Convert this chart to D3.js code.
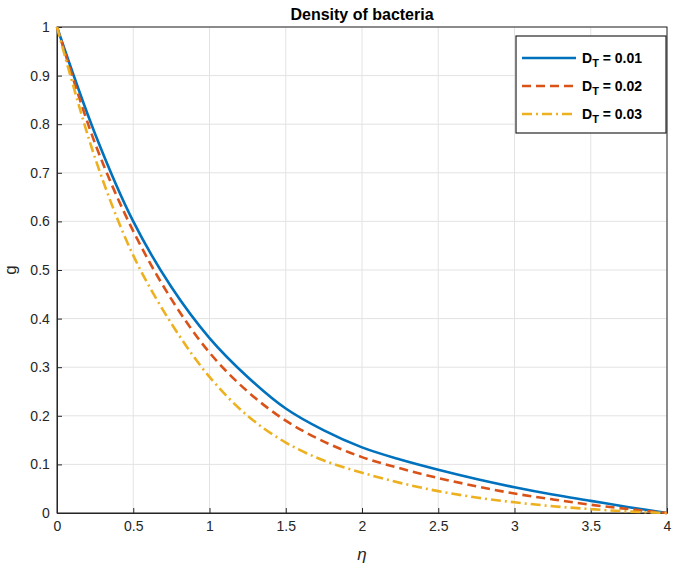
<!DOCTYPE html>
<html><head><meta charset="utf-8">
<script src="https://cdn.jsdelivr.net/npm/d3@7"></script>
<style>body{margin:0;background:#fff}text{font-family:Arial,"Liberation Sans",sans-serif}</style>
</head><body><svg id="c" width="685" height="576"></svg>
<script>
const eta = [0,0.25,0.5,0.75,1,1.25,1.5,1.75,2,2.25,2.5,2.75,3,3.25,3.5,3.75,4];
const g1 = [1,0.78,0.60,0.465,0.36,0.28,0.215,0.17,0.135,0.11,0.089,0.07,0.053,0.038,0.025,0.012,0];
const g2 = [1,0.76,0.58,0.44,0.33,0.25,0.19,0.147,0.115,0.092,0.072,0.055,0.04,0.028,0.017,0.008,0];
const g3 = [1,0.73,0.53,0.39,0.28,0.20,0.145,0.108,0.083,0.062,0.045,0.032,0.022,0.014,0.008,0.003,0];
const labels = ["0.01","0.02","0.03"];
const colors = ["#0072BD","#D95319","#EDB120"];
const dashes = [null,"9,5","10,4,2,4"];

const svg = d3.select("#c");
const m = {l:57,r:18,t:27,b:63};
const W = 685-m.l-m.r, H = 576-m.t-m.b;
const x = d3.scaleLinear().domain([0,4]).range([m.l,m.l+W]);
const y = d3.scaleLinear().domain([0,1]).range([m.t+H,m.t]);

svg.append("rect").attr("x",m.l).attr("y",m.t).attr("width",W).attr("height",H).attr("fill","#fff");
const xt = d3.range(0,4.01,0.5), yt = d3.range(0,1.001,0.1);
svg.append("g").selectAll("line").data(xt).join("line")
  .attr("x1",d=>x(d)).attr("x2",d=>x(d)).attr("y1",m.t).attr("y2",m.t+H).attr("stroke","#e3e3e3");
svg.append("g").selectAll("line").data(yt).join("line")
  .attr("y1",d=>y(d)).attr("y2",d=>y(d)).attr("x1",m.l).attr("x2",m.l+W).attr("stroke","#e3e3e3");

const fmt = d=>d3.format("~g")(+d.toFixed(2));
const ax = svg.append("g").attr("transform",`translate(0,${m.t+H})`)
  .call(d3.axisBottom(x).tickValues(xt).tickFormat(fmt).tickSizeInner(-5).tickSizeOuter(0));
const ay = svg.append("g").attr("transform",`translate(${m.l},0)`)
  .call(d3.axisLeft(y).tickValues(yt).tickFormat(fmt).tickSizeInner(-5).tickSizeOuter(0));
[ax,ay].forEach(a=>{a.selectAll("text").attr("font-size",14).attr("fill","#262626");
  a.selectAll("line,path").attr("stroke","#262626");});
ax.selectAll("text").attr("dy","1.1em");
ay.selectAll("text").attr("dx","-0.3em");
svg.append("rect").attr("x",m.l).attr("y",m.t).attr("width",W).attr("height",H)
  .attr("fill","none").attr("stroke","#262626");

const line = d3.line().x((d,i)=>x(eta[i])).y(d=>y(d)).curve(d3.curveCatmullRom.alpha(0.5));
[g1,g2,g3].forEach((s,i)=>svg.append("path").attr("d",line(s)).attr("fill","none")
  .attr("stroke",colors[i]).attr("stroke-width",2.6).attr("stroke-dasharray",dashes[i]));

svg.append("text").attr("x",x(2)).attr("y",20).attr("text-anchor","middle")
  .attr("font-size",16).attr("font-weight","bold").text("Density of bacteria");
svg.append("text").attr("transform",`translate(16,${y(0.5)}) rotate(-90)`).attr("text-anchor","middle")
  .attr("font-size",17).attr("fill","#262626").text("g");
svg.append("text").attr("x",x(2)).attr("y",560).attr("text-anchor","middle")
  .attr("font-size",17).attr("font-style","italic").attr("font-family","Times New Roman, Liberation Serif, serif")
  .attr("fill","#262626").text("η");

const lg = svg.append("g").attr("transform","translate(516,36)");
lg.append("rect").attr("width",150).attr("height",97).attr("fill","#fff").attr("stroke","#262626").attr("stroke-width",1.2);
labels.forEach((l,i)=>{
  const yy = 22+i*28;
  lg.append("line").attr("x1",6).attr("x2",60).attr("y1",yy).attr("y2",yy)
    .attr("stroke",colors[i]).attr("stroke-width",2.6).attr("stroke-dasharray",dashes[i]);
  const t = lg.append("text").attr("x",66).attr("y",yy+5).attr("font-size",14).attr("font-weight","bold");
  t.append("tspan").text("D");
  t.append("tspan").attr("font-size",11).attr("dy",4).text("T");
  t.append("tspan").attr("dy",-4).text(" = "+l);
});
</script></body></html>
